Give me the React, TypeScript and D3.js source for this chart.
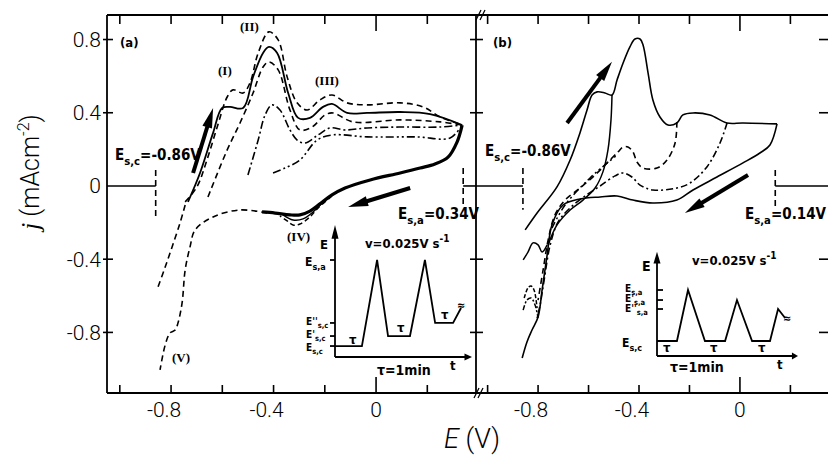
import React from 'react';
import * as d3 from 'd3';

type Pt = [number, number];

// ---- panel (a): anodic sweeps, [E (V), j (mA cm-2)] ----
const aSweepDashOuter: Pt[] = [
  [-0.745, -0.087], [-0.699, -0.005], [-0.66, 0.142], [-0.62, 0.322], [-0.581, 0.486],
  [-0.558, 0.525], [-0.519, 0.508], [-0.492, 0.563], [-0.46, 0.727], [-0.418, 0.842],
  [-0.382, 0.798], [-0.347, 0.596], [-0.308, 0.454], [-0.269, 0.415], [-0.219, 0.47],
  [-0.172, 0.497], [-0.113, 0.454], [-0.035, 0.443], [0.094, 0.454], [0.183, 0.432],
  [0.25, 0.377], [0.336, 0.333],
];
const aSweepSolid: Pt[] = [
  [-0.734, -0.087], [-0.687, 0.071], [-0.636, 0.29], [-0.601, 0.426], [-0.57, 0.432],
  [-0.519, 0.426], [-0.48, 0.596], [-0.441, 0.727], [-0.418, 0.76], [-0.386, 0.727],
  [-0.343, 0.508], [-0.304, 0.372], [-0.258, 0.372], [-0.207, 0.432], [-0.172, 0.448],
  [-0.113, 0.399], [-0.035, 0.399], [0.094, 0.404], [0.211, 0.393], [0.336, 0.333],
];
const aSweepDashInner: Pt[] = [
  [-0.656, -0.06], [-0.581, 0.197], [-0.531, 0.344], [-0.48, 0.508], [-0.441, 0.65],
  [-0.418, 0.678], [-0.382, 0.634], [-0.336, 0.415], [-0.297, 0.306], [-0.25, 0.322],
  [-0.199, 0.388], [-0.168, 0.399], [-0.09, 0.35], [0.094, 0.361], [0.25, 0.35], [0.336, 0.333],
];
const aSweepDashDot: Pt[] = [
  [-0.5, 0.06], [-0.46, 0.251], [-0.433, 0.388], [-0.406, 0.443], [-0.375, 0.415],
  [-0.336, 0.306], [-0.308, 0.251], [-0.277, 0.235], [-0.226, 0.279], [-0.18, 0.317],
  [-0.121, 0.306], [-0.035, 0.317], [0.094, 0.322], [0.25, 0.322], [0.336, 0.333],
];
const aSweepDashDotDot: Pt[] = [
  [-0.402, 0.071], [-0.355, 0.098], [-0.297, 0.142], [-0.23, 0.251], [-0.168, 0.279],
  [-0.035, 0.268], [0.16, 0.268], [0.289, 0.262], [0.336, 0.333],
];
// cathodic return (all sweeps nearly superposed)
const aReturn: Pt[] = [
  [0.336, 0.333], [0.316, 0.24], [0.281, 0.158], [0.23, 0.12], [0.172, 0.098], [0.094, 0.071],
  [-0.023, 0.033], [-0.121, -0.011], [-0.172, -0.049], [-0.219, -0.098], [-0.258, -0.137],
  [-0.297, -0.158], [-0.336, -0.158], [-0.394, -0.148], [-0.445, -0.142],
];
const aPeakIV: Pt[] = [
  [-0.172, -0.055], [-0.226, -0.12], [-0.258, -0.169], [-0.297, -0.208], [-0.324, -0.213],
  [-0.347, -0.191], [-0.375, -0.164],
];
const aPeakIVb: Pt[] = [
  [-0.199, -0.077], [-0.246, -0.142], [-0.285, -0.18], [-0.324, -0.186], [-0.363, -0.158],
];
const aToPeakV: Pt[] = [
  [-0.425, -0.148], [-0.531, -0.131], [-0.636, -0.169], [-0.706, -0.24], [-0.726, -0.333],
  [-0.745, -0.459], [-0.757, -0.639], [-0.773, -0.749], [-0.784, -0.787], [-0.804, -0.803],
  [-0.823, -0.869], [-0.843, -1.005],
];
const aFromEsc: Pt[] = [
  [-0.745, -0.104], [-0.765, -0.202], [-0.796, -0.333], [-0.823, -0.443], [-0.851, -0.552],
];

// ---- panel (b) ----
const bOuter: Pt[] = [
  [-0.851, -0.24], [-0.804, -0.148], [-0.725, -0.005], [-0.673, 0.142], [-0.634, 0.29],
  [-0.606, 0.415], [-0.586, 0.497], [-0.566, 0.514], [-0.535, 0.508], [-0.507, 0.497],
  [-0.487, 0.579], [-0.463, 0.672], [-0.436, 0.76], [-0.416, 0.803], [-0.396, 0.803],
  [-0.384, 0.77], [-0.364, 0.617], [-0.345, 0.47], [-0.317, 0.377], [-0.285, 0.333],
  [-0.25, 0.344], [-0.226, 0.388], [-0.186, 0.399], [-0.119, 0.388], [-0.051, 0.344],
  [0.012, 0.344], [0.147, 0.339],
];
const bReturn: Pt[] = [
  [0.147, 0.339], [0.119, 0.224], [0.079, 0.18], [0.012, 0.126], [-0.091, 0.049],
  [-0.186, -0.022], [-0.25, -0.077], [-0.345, -0.093], [-0.424, -0.077], [-0.487, -0.055],
  [-0.554, -0.06], [-0.634, -0.071], [-0.701, -0.104], [-0.745, -0.213], [-0.764, -0.377],
  [-0.784, -0.568], [-0.8, -0.716], [-0.824, -0.787], [-0.844, -0.852], [-0.863, -0.94],
];
const bShoulder: Pt[] = [
  [-0.507, 0.497], [-0.511, 0.361], [-0.523, 0.197], [-0.543, 0.077], [-0.574, -0.011],
  [-0.622, -0.077], [-0.673, -0.131], [-0.725, -0.213], [-0.76, -0.322],
];
const bDashed: Pt[] = [
  [-0.25, 0.35], [-0.257, 0.235], [-0.289, 0.142], [-0.329, 0.098], [-0.384, 0.098],
  [-0.408, 0.131], [-0.424, 0.186], [-0.444, 0.213], [-0.463, 0.213], [-0.483, 0.186],
  [-0.515, 0.142], [-0.574, 0.06], [-0.634, -0.011], [-0.693, -0.077], [-0.733, -0.158],
  [-0.76, -0.295], [-0.78, -0.459], [-0.8, -0.623],
];
const bDashDot: Pt[] = [
  [-0.051, 0.344], [-0.079, 0.235], [-0.131, 0.104], [-0.198, 0.016], [-0.25, -0.011],
  [-0.345, -0.022], [-0.396, 0.005], [-0.428, 0.049], [-0.463, 0.071], [-0.495, 0.055],
  [-0.554, 0.0], [-0.614, -0.055], [-0.673, -0.12], [-0.721, -0.197], [-0.752, -0.322],
  [-0.776, -0.514], [-0.792, -0.65], [-0.804, -0.721],
];
const bDashDotDot: Pt[] = [
  [-0.745, -0.23], [-0.693, -0.104], [-0.594, 0.044], [-0.535, 0.115], [-0.487, 0.169],
];
const bHookSolid: Pt[] = [
  [-0.859, -0.404], [-0.84, -0.361], [-0.82, -0.311], [-0.8, -0.322], [-0.784, -0.361], [-0.764, -0.322],
];
const bHookDashed: Pt[] = [
  [-0.855, -0.612], [-0.84, -0.557], [-0.828, -0.546], [-0.816, -0.568], [-0.804, -0.667],
];
const bHookDashDot: Pt[] = [
  [-0.859, -0.678], [-0.844, -0.623], [-0.828, -0.612], [-0.812, -0.65], [-0.8, -0.721],
];

// arrows [tail, tip] in [E, j]
const aArrows: [Pt, Pt][] = [
  [[-0.714, 0.071], [-0.636, 0.426]],
  [[0.133, -0.011], [-0.109, -0.115]],
];
const bArrows: [Pt, Pt][] = [
  [[-0.685, 0.344], [-0.507, 0.678]],
  [[0.032, 0.06], [-0.218, -0.148]],
];

// ---- axes ----
const eTicks = [-1.0, -0.8, -0.6, -0.4, -0.2, 0, 0.2];
const eLabels = [-0.8, -0.4, 0];
const jTicks = [0.8, 0.4, -0.4, -0.8];
const jLabels = [0.8, 0.4, 0, -0.4, -0.8];

// ---- inset potential programmes (t in min, E in relative units) ----
const insetAT = [0, 1.08, 1.69, 2.13, 3.01, 3.61, 4.02, 4.74, 5.06];
const insetAE = [0.113, 0.113, 1, 0.216, 0.216, 1, 0.351, 0.351, 0.505];
const insetALevels = [1, 0.351, 0.216, 0.113];
const insetBT = [0, 0.99, 1.54, 2.38, 3.38, 3.97, 4.72, 5.61, 6.01, 6.36];
const insetBE = [0.227, 0.227, 1, 0.227, 0.227, 0.848, 0.227, 0.227, 0.712, 0.576];
const insetBLevels = [1, 0.848, 0.712, 0.227];

const NUM = 'Roboto, "DejaVu Sans", sans-serif';
const BOLD = '"Liberation Sans Narrow", "DejaVu Sans Condensed", "Liberation Sans", sans-serif';
const ROMAN = '"Liberation Serif", "DejaVu Serif", serif';

const xA = d3.scaleLinear().domain([-1.05, 0.39]).range([107, 476]);
const xB = d3.scaleLinear().domain([-1.046, 0.349]).range([476, 828]);
const yS = d3.scaleLinear().domain([-1.131, 0.934]).range([393, 15]);

const makeLine = (xs: d3.ScaleLinear<number, number>) =>
  d3.line<Pt>().x(d => xs(d[0])).y(d => yS(d[1])).curve(d3.curveCatmullRom.alpha(0.5));

const fmt = (v: number) => (v === 0 ? '0' : d3.format('.1f')(v).replace('−', '-'));

function Arrow({ tail, tip }: { tail: [number, number]; tip: [number, number] }) {
  const dx = tip[0] - tail[0], dy = tip[1] - tail[1];
  const L = Math.hypot(dx, dy);
  const ux = dx / L, uy = dy / L;
  const hl = 20, hw = 5;
  const bx = tip[0] - ux * hl, by = tip[1] - uy * hl;
  const p = [
    [tip[0], tip[1]],
    [bx - uy * hw, by + ux * hw],
    [bx + uy * hw, by - ux * hw],
  ];
  return (
    <g>
      <line x1={tail[0]} y1={tail[1]} x2={bx + ux * 3} y2={by + uy * 3} stroke="#000" strokeWidth={4} />
      <polygon points={p.map(q => q.join(',')).join(' ')} fill="#000" />
    </g>
  );
}

function ESub({ x, y, sub, rest, size = 14, pre = '' }: { x: number; y: number; sub: string; rest: string; size?: number; pre?: string }) {
  return (
    <text x={x} y={y} fontFamily={BOLD} fontWeight="bold" fontSize={size}>
      E{pre}
      <tspan fontSize={size * 0.75} dy={size * 0.3}>{sub}</tspan>
      <tspan dy={-size * 0.3}>{rest}</tspan>
    </text>
  );
}

export default function App() {
  const lineA = makeLine(xA);
  const lineB = makeLine(xB);

  const aCurves: { d: Pt[]; dash?: string; w: number }[] = [
    { d: aSweepDashOuter, dash: '6,4', w: 1.6 },
    { d: aSweepSolid, w: 1.8 },
    { d: aSweepDashInner, dash: '6,4', w: 1.6 },
    { d: aSweepDashDot, dash: '8,3,2,3', w: 1.6 },
    { d: aSweepDashDotDot, dash: '8,3,2,3,2,3', w: 1.6 },
    { d: aReturn, w: 3.2 },
    { d: aPeakIV, dash: '5,3', w: 1.5 },
    { d: aPeakIVb, w: 1.4 },
    { d: aToPeakV, dash: '6,4', w: 1.6 },
    { d: aFromEsc, dash: '6,4', w: 1.6 },
  ];
  const bCurves: { d: Pt[]; dash?: string; w: number }[] = [
    { d: bOuter, w: 1.6 },
    { d: bReturn, w: 1.6 },
    { d: bShoulder, w: 1.5 },
    { d: bDashed, dash: '6,4', w: 1.6 },
    { d: bDashDot, dash: '7,3,2,3', w: 1.6 },
    { d: bDashDotDot, dash: '7,3,2,3,2,3', w: 1.5 },
    { d: bHookSolid, w: 1.5 },
    { d: bHookDashed, dash: '4,2', w: 1.5 },
    { d: bHookDashDot, dash: '5,2,2,2', w: 1.5 },
  ];

  const tA = d3.scaleLinear().domain([0, 5.5]).range([335, 472]);
  const eA = d3.scaleLinear().domain([0, 1]).range([357, 260]);
  const tB = d3.scaleLinear().domain([0, 7]).range([657, 798]);
  const eB = d3.scaleLinear().domain([0, 1]).range([356, 290]);
  const waveA = d3.line<number>().x((_, i) => tA(insetAT[i])).y(d => eA(d))(insetAE) || '';
  const waveB = d3.line<number>().x((_, i) => tB(insetBT[i])).y(d => eB(d))(insetBE) || '';

  const frameTop = yS(0.934), frameBot = yS(-1.131);

  const ticksFor = (xs: d3.ScaleLinear<number, number>) =>
    eTicks.map(e => {
      const x = xs(e);
      if (x < xs.range()[0] + 2 || x > xs.range()[1] - 2) return null;
      const long = e === 0;
      return (
        <g key={e}>
          <line x1={x} x2={x} y1={frameTop} y2={frameTop + (long ? 16 : 9)} stroke="#000" strokeWidth={1.6} />
          <line x1={x} x2={x} y1={frameBot} y2={frameBot - (long ? 16 : 8)} stroke="#000" strokeWidth={1.6} />
        </g>
      );
    });

  const arrowPx = (xs: d3.ScaleLinear<number, number>, a: [Pt, Pt]) => ({
    tail: [xs(a[0][0]), yS(a[0][1])] as [number, number],
    tip: [xs(a[1][0]), yS(a[1][1])] as [number, number],
  });

  return (
    <svg width={828} height={457} style={{ position: 'absolute', left: 0, top: 0, background: '#fff' }}>
      <rect x={0} y={0} width={828} height={457} fill="#fff" />
      {/* frame */}
      <g stroke="#000" strokeWidth={1.8} fill="none">
        <line x1={107} x2={828} y1={frameTop} y2={frameTop} />
        <line x1={107} x2={828} y1={frameBot} y2={frameBot} />
        <line x1={107} x2={107} y1={frameTop} y2={frameBot} />
        <line x1={476} x2={476} y1={frameTop} y2={frameBot} />
      </g>
      {/* axis breaks */}
      <g stroke="#000" strokeWidth={1.3}>
        <line x1={476} y1={frameTop + 5} x2={481} y2={frameTop - 5} />
        <line x1={480} y1={frameTop + 5} x2={485} y2={frameTop - 5} />
        <line x1={474} y1={frameBot + 5} x2={479} y2={frameBot - 5} />
        <line x1={478} y1={frameBot + 5} x2={483} y2={frameBot - 5} />
      </g>
      {ticksFor(xA)}
      {ticksFor(xB)}
      {/* j ticks */}
      {jTicks.map(j => (
        <g key={j} stroke="#000" strokeWidth={1.6}>
          <line x1={103} x2={113} y1={yS(j)} y2={yS(j)} />
          <line x1={470} x2={483} y1={yS(j)} y2={yS(j)} />
          <line x1={819} x2={828} y1={yS(j)} y2={yS(j)} />
        </g>
      ))}
      {/* tick labels */}
      <g fontFamily={NUM} fontWeight={300} fontSize={21} fill="#000">
        {jLabels.map(j => (
          <text key={j} x={101} y={yS(j) + 7.5} textAnchor="end">{fmt(j)}</text>
        ))}
        {eLabels.map(e => (
          <text key={'a' + e} x={xA(e) + (e === 0 ? 0 : -7)} y={417} textAnchor="middle">{fmt(e)}</text>
        ))}
        {eLabels.map(e => (
          <text key={'b' + e} x={xB(e) + (e === 0 ? 0 : -7)} y={417} textAnchor="middle">{fmt(e)}</text>
        ))}
      </g>
      {/* axis titles */}
      <text transform="translate(39,172) rotate(-90)" textAnchor="middle" fontFamily={NUM} fontWeight={300} fontSize={25}>
        <tspan fontStyle="italic" fontFamily={ROMAN}>j</tspan> (mAcm<tspan fontSize={16} dy={-10}>-2</tspan><tspan dy={10}>)</tspan>
      </text>
      <text x={444} y={448} fontFamily={NUM} fontWeight={300} fontSize={27}>
        <tspan fontStyle="italic">E</tspan> (V)
      </text>

      {/* curves */}
      <g fill="none" stroke="#000" strokeLinejoin="round">
        {aCurves.map((c, i) => (
          <path key={i} d={lineA(c.d) || ''} strokeWidth={c.w} strokeDasharray={c.dash} />
        ))}
        {bCurves.map((c, i) => (
          <path key={'b' + i} d={lineB(c.d) || ''} strokeWidth={c.w} strokeDasharray={c.dash} />
        ))}
      </g>

      {/* sweep limits */}
      <g stroke="#000" strokeWidth={1.6}>
        <line x1={107} x2={xA(-0.86)} y1={yS(0)} y2={yS(0)} />
        <line x1={xA(-0.86)} x2={xA(-0.86)} y1={yS(0.087)} y2={yS(-0.165)} strokeDasharray="6,4" />
        <line x1={xA(0.34)} x2={476} y1={yS(0)} y2={yS(0)} />
        <line x1={xA(0.34)} x2={xA(0.34)} y1={yS(0.098)} y2={yS(-0.11)} strokeDasharray="6,4" />
        <line x1={476} x2={xB(-0.86)} y1={yS(0)} y2={yS(0)} />
        <line x1={xB(-0.86)} x2={xB(-0.86)} y1={yS(0.098)} y2={yS(-0.13)} strokeDasharray="6,4" />
        <line x1={xB(0.14)} x2={828} y1={yS(0)} y2={yS(0)} />
        <line x1={xB(0.14)} x2={xB(0.14)} y1={yS(0.087)} y2={yS(-0.11)} strokeDasharray="6,4" />
      </g>

      {aArrows.map((a, i) => <Arrow key={'aa' + i} {...arrowPx(xA, a)} />)}
      {bArrows.map((a, i) => <Arrow key={'ba' + i} {...arrowPx(xB, a)} />)}

      {/* labels */}
      <g fontFamily={BOLD} fontWeight="bold" fontSize={13}>
        <text x={120} y={47}>(a)</text>
        <text x={493} y={47}>(b)</text>
      </g>
      <g fontFamily={ROMAN} fontWeight="bold" fontSize={13}>
        <text x={218} y={75}>(I)</text>
        <text x={240} y={31}>(II)</text>
        <text x={315} y={85}>(III)</text>
        <text x={287} y={241}>(IV)</text>
        <text x={172} y={362}>(V)</text>
      </g>
      <ESub x={115} y={160} sub="s,c" rest="=-0.86V" size={15} />
      <ESub x={398} y={219} sub="s,a" rest="=0.34V" size={15} />
      <ESub x={485} y={156} sub="s,c" rest="=-0.86V" size={15} />
      <ESub x={745} y={219} sub="s,a" rest="=0.14V" size={15} />

      {/* inset (a) */}
      <g stroke="#000" strokeWidth={1.8} fill="none">
        <line x1={tA(0)} x2={tA(0)} y1={eA(0)} y2={eA(1.3)} />
        <line x1={tA(0)} x2={tA(5.35)} y1={eA(0)} y2={eA(0)} />
        <path d={waveA} strokeWidth={1.8} />
        {insetALevels.map(l => <line key={l} x1={tA(0) - 5} x2={tA(0)} y1={eA(l)} y2={eA(l)} />)}
      </g>
      <polygon points={`${tA(0)},${eA(1.36)} ${tA(0) - 3.5},${eA(1.22)} ${tA(0) + 3.5},${eA(1.22)}`} />
      <polygon points={`${tA(5.5)},${eA(0)} ${tA(5.2)},${eA(0) - 3.5} ${tA(5.2)},${eA(0) + 3.5}`} />
      <g fontFamily={BOLD} fontWeight="bold" fontSize={13}>
        <text x={320} y={249}>E</text>
        <text x={365} y={248}>v=0.025V s<tspan fontSize={10} dy={-6}>-1</tspan></text>
        <text x={377} y={375} fontSize={14}>τ=1min</text>
        <text x={450} y={370}>t</text>
        <text x={349} y={344}>τ</text>
        <text x={397} y={332}>τ</text>
        <text x={441} y={319}>τ</text>
        <text x={457} y={309} fontSize={11}>≈</text>
      </g>
      <ESub x={305} y={266} sub="s,a" rest="" size={12} />
      <ESub x={306} y={325} sub="s,c" rest="" size={10} pre="''" />
      <ESub x={306} y={338} sub="s,c" rest="" size={10} pre="'" />
      <ESub x={306} y={351} sub="s,c" rest="" size={10} />

      {/* inset (b) */}
      <g stroke="#000" strokeWidth={1.8} fill="none">
        <line x1={tB(0)} x2={tB(0)} y1={eB(0)} y2={eB(1.5)} />
        <line x1={tB(0)} x2={tB(6.85)} y1={eB(0)} y2={eB(0)} />
        <path d={waveB} strokeWidth={1.8} />
        {insetBLevels.map(l => <line key={l} x1={tB(0)} x2={tB(0) + 6} y1={eB(l)} y2={eB(l)} />)}
      </g>
      <polygon points={`${tB(0)},${eB(1.58)} ${tB(0) - 3.5},${eB(1.4)} ${tB(0) + 3.5},${eB(1.4)}`} />
      <polygon points={`${tB(7)},${eB(0)} ${tB(6.7)},${eB(0) - 3.5} ${tB(6.7)},${eB(0) + 3.5}`} />
      <g fontFamily={BOLD} fontWeight="bold" fontSize={13}>
        <text x={642} y={271} fontSize={14}>E</text>
        <text x={692} y={265}>v=0.025V s<tspan fontSize={10} dy={-6}>-1</tspan></text>
        <text x={670} y={372} fontSize={14}>τ=1min</text>
        <text x={777} y={369}>t</text>
        <text x={663} y={352}>τ</text>
        <text x={710} y={352}>τ</text>
        <text x={758} y={352}>τ</text>
        <text x={783} y={322} fontSize={11}>≈</text>
      </g>
      <ESub x={625} y={292} sub="s,a" rest="" size={10} />
      <ESub x={625} y={302} sub="s,a" rest="" size={10} pre="'" />
      <ESub x={625} y={312} sub="s,a" rest="" size={10} pre="''" />
      <ESub x={622} y={347} sub="s,c" rest="" size={12} />
    </svg>
  );
}
